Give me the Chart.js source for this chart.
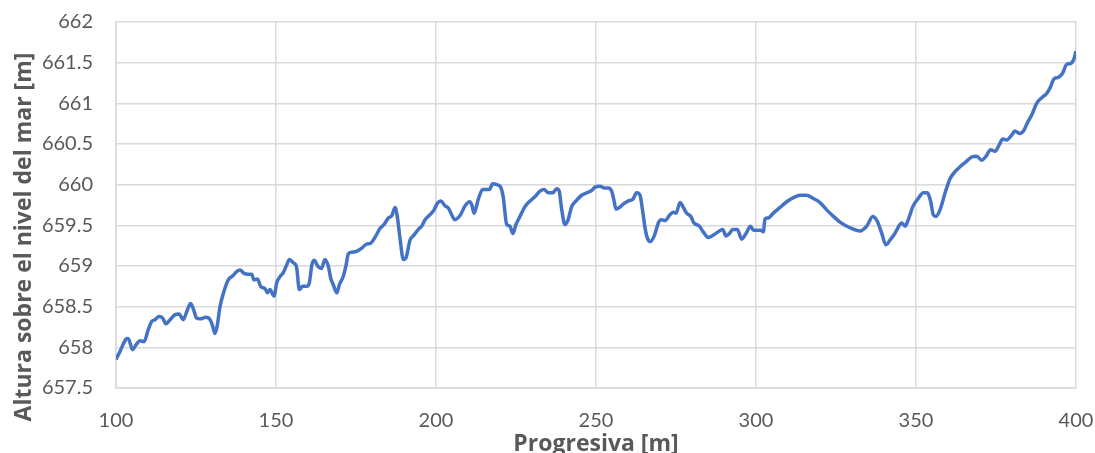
<!DOCTYPE html>
<html>
<head>
<meta charset="utf-8">
<script src="https://cdn.jsdelivr.net/npm/chart.js@4.4.1/dist/chart.umd.min.js"></script>
<style>
  body { margin: 0; background: #fff; }
  canvas { display: block; }
</style>
</head>
<body>
<canvas id="perfil" width="1095" height="453"></canvas>
<script>
// progresiva [m] y altura [m] del perfil
const progresiva = [
  100, 101.25, 103.1, 103.8, 105.2, 106.25, 107.5, 108.75, 110.1, 111.2,
  112.2, 113.5, 114.6, 115.6, 116.9, 118.4, 119.7, 121, 122.3, 123.3,
  124.1, 125.2, 126.25, 128.1, 129.4, 130.2, 130.9, 131.6, 132.5, 133.75,
  135.1, 136.5, 137.7, 138.75, 140, 141.3, 142.4, 143.1, 144.2, 145.2,
  146.6, 147.3, 148.1, 149.4, 150.2, 151.25, 152.3, 153.3, 154.2, 155.4,
  156.4, 157.3, 158.3, 159.6, 160.4, 161.2, 161.9, 163.2, 164.2, 165.3,
  166.4, 167.1, 167.9, 169, 169.8, 171, 171.9, 172.6, 173.7, 175.2,
  176.8, 178.3, 179.6, 180.9, 182.5, 183.75, 185.1, 186.2, 187.2, 187.9,
  188.75, 189.8, 190.6, 191.9, 193.1, 194.5, 195.5, 196.6, 198.1, 199.4,
  200.4, 201.5, 202.8, 203.9, 204.9, 205.9, 207.5, 209.1, 210.5, 211.2,
  211.9, 213.2, 214.6, 215.8, 216.7, 217.7, 219, 220.2, 221, 222.1,
  223.1, 224, 225, 226.25, 227.8, 229.4, 230.9, 232.5, 233.75, 235.1,
  236.5, 237.7, 238.5, 239.3, 240.3, 241.3, 242.4, 244, 245.5, 247.1,
  248.7, 249.7, 251.25, 252.5, 253.8, 254.9, 255.6, 256.25, 257.3, 258.5,
  260.1, 261.5, 262.7, 263.75, 264.6, 265.4, 266, 267, 268.2, 269.6,
  270.5, 271.6, 273.1, 274.2, 275, 276.25, 277.3, 278.3, 279.6, 280.6,
  282.3, 283.5, 285.1, 286.7, 288.2, 289.6, 290.6, 291.7, 292.7, 294.2,
  295.5, 296.9, 298.3, 299.2, 300.4, 301.5, 302.3, 302.8, 303.85, 305.4,
  307.5, 309.6, 311.7, 313.75, 315.8, 317.9, 320, 322.1, 324.2, 326.25,
  329.4, 332.5, 334.6, 336.5, 337.9, 339.3, 340.6, 341.9, 343.4, 344.5,
  345.5, 346.6, 347.6, 349, 350.7, 352.3, 353.5, 354.6, 355.4, 356.25,
  357.5, 359.1, 360.6, 362.2, 363.75, 365.6, 367.4, 369, 370.5, 371.9,
  373.3, 374.7, 376, 377.1, 378.3, 379.9, 380.9, 382.3, 383.75, 384.8,
  386.2, 387.7, 389.3, 390.8, 391.9, 393.1, 394.5, 395.8, 397.1, 398.3,
  399.4, 400
]

const altura = [
  657.85, 657.95, 658.10, 658.11, 657.97, 658.03, 658.08, 658.07, 658.22, 658.32,
  658.34, 658.38, 658.36, 658.29, 658.34, 658.40, 658.41, 658.34, 658.46, 658.54,
  658.48, 658.36, 658.35, 658.37, 658.34, 658.26, 658.17, 658.26, 658.50, 658.69,
  658.83, 658.88, 658.93, 658.95, 658.91, 658.90, 658.90, 658.83, 658.84, 658.75,
  658.72, 658.67, 658.71, 658.63, 658.79, 658.87, 658.92, 659.01, 659.08, 659.04,
  658.99, 658.71, 658.75, 658.75, 658.79, 659.01, 659.07, 658.99, 658.97, 659.08,
  658.99, 658.85, 658.77, 658.67, 658.77, 658.87, 659.01, 659.15, 659.17, 659.18,
  659.22, 659.27, 659.28, 659.35, 659.46, 659.51, 659.59, 659.62, 659.72, 659.61,
  659.34, 659.08, 659.10, 659.32, 659.38, 659.45, 659.49, 659.57, 659.63, 659.69,
  659.77, 659.80, 659.74, 659.71, 659.63, 659.57, 659.62, 659.74, 659.79, 659.75,
  659.65, 659.82, 659.94, 659.94, 659.94, 660.01, 660.00, 659.97, 659.85, 659.51,
  659.49, 659.40, 659.51, 659.61, 659.73, 659.80, 659.85, 659.92, 659.94, 659.90,
  659.90, 659.95, 659.92, 659.69, 659.51, 659.57, 659.73, 659.81, 659.87, 659.90,
  659.93, 659.97, 659.98, 659.96, 659.96, 659.92, 659.81, 659.70, 659.72, 659.76,
  659.80, 659.82, 659.90, 659.87, 659.67, 659.45, 659.35, 659.30, 659.37, 659.54,
  659.57, 659.56, 659.63, 659.66, 659.65, 659.78, 659.72, 659.65, 659.61, 659.53,
  659.49, 659.42, 659.35, 659.38, 659.42, 659.45, 659.37, 659.40, 659.45, 659.45,
  659.33, 659.40, 659.49, 659.44, 659.44, 659.44, 659.42, 659.58, 659.59, 659.65,
  659.72, 659.79, 659.84, 659.87, 659.87, 659.83, 659.78, 659.69, 659.61, 659.54,
  659.47, 659.43, 659.49, 659.61, 659.55, 659.40, 659.26, 659.32, 659.40, 659.48,
  659.53, 659.49, 659.57, 659.73, 659.83, 659.90, 659.90, 659.79, 659.63, 659.61,
  659.69, 659.90, 660.07, 660.16, 660.22, 660.28, 660.34, 660.35, 660.30, 660.35,
  660.43, 660.41, 660.49, 660.56, 660.55, 660.61, 660.66, 660.63, 660.67, 660.76,
  660.86, 661.00, 661.07, 661.12, 661.19, 661.30, 661.32, 661.37, 661.48, 661.49,
  661.55, 661.64
]

const ticksX = [100, 150, 200, 250, 300, 350, 400]
const ticksY = [657.5, 658, 658.5, 659, 659.5, 660, 660.5, 661, 661.5, 662]

const tituloX = 'Progresiva [m]'
const tituloY = 'Altura sobre el nivel del mar [m]'

const gris = '#595959'
const fuenteTicks = 'Lato, "Open Sans", sans-serif'
const fuenteTitulos = '"Open Sans", Lato, sans-serif'

// titulo del eje Y dibujado a mano para poder bajarlo un poco
const tituloEjeY = {
  id: 'tituloEjeY',
  afterDraw(chart) {
    const ctx = chart.ctx
    ctx.save()
    ctx.translate(24, 237)
    ctx.rotate(-Math.PI / 2)
    ctx.font = 'bold 23px ' + fuenteTitulos
    ctx.fillStyle = gris
    ctx.textAlign = 'center'
    ctx.textBaseline = 'middle'
    ctx.fillText(tituloY, 0, 0)
    ctx.restore()
  }
}

const puntos = progresiva.map((x, i) => ({ x: x, y: altura[i] }))

const grafico = new Chart(document.getElementById('perfil'), {
  type: 'line',
  data: {
    datasets: [
      {
        label: 'Altura',
        data: puntos,
        borderColor: '#4472C4',
        borderWidth: 3.5,
        pointRadius: 0,
        tension: 0.3,
        cubicInterpolationMode: 'monotone',
        fill: false,
      },
    ],
  },
  options: {
    responsive: false,
    animation: false,
    layout: { padding: { top: 22, right: 19, left: 0, bottom: 0 } },
    plugins: {
      legend: { display: false },
      tooltip: { enabled: false },
    },
    scales: {
      x: {
        type: 'linear',
        min: 100,
        max: 400,
        afterBuildTicks: s => { s.ticks = ticksX.map(v => ({ value: v })) },
        afterFit: s => {
          s.height = 65
          s.paddingLeft = 0
          s.paddingRight = 0
        },
        grid: { color: '#d9d9d9', lineWidth: 1.5, drawTicks: false },
        border: { color: '#d9d9d9', width: 1.5 },
        ticks: {
          color: gris,
          font: { family: fuenteTicks, size: 20 },
          padding: 21,
          maxRotation: 0,
          callback: v => String(v),
        },
        title: {
          display: true,
          text: tituloX,
          color: gris,
          font: { family: fuenteTitulos, size: 23, weight: 'bold' },
          padding: { top: 0, bottom: -5 },
        },
      },
      y: {
        min: 657.5,
        max: 662,
        afterBuildTicks: s => { s.ticks = ticksY.map(v => ({ value: v })) },
        afterFit: s => {
          s.width = 116
          s.paddingTop = 0
          s.paddingBottom = 0
        },
        grid: { color: '#d9d9d9', lineWidth: 1.5, drawTicks: false },
        border: { color: '#d9d9d9', width: 1.5 },
        ticks: {
          color: gris,
          font: { family: fuenteTicks, size: 20 },
          padding: 23,
          callback: v => String(v),
        },
      },
    },
  },
  plugins: [tituloEjeY],
})
</script>
</body>
</html>
